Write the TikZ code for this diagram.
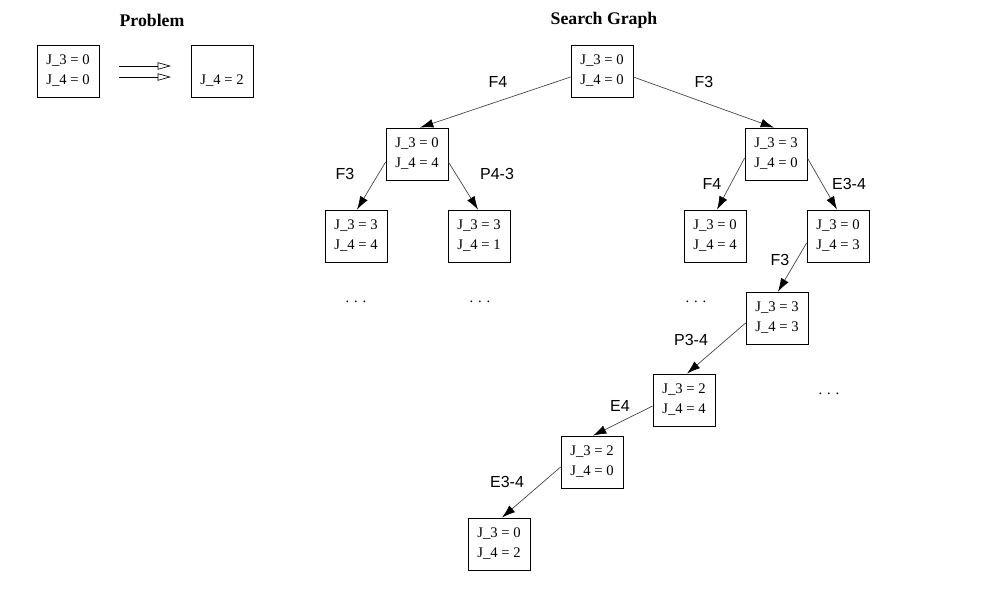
\documentclass[tikz,border=0pt]{standalone}
\usepackage{fontspec}
\setmainfont{Liberation Serif}
\setsansfont{Liberation Sans}
\usetikzlibrary{arrows.meta,calc}
\begin{document}
\begin{tikzpicture}[x=0.75pt,y=-0.75pt,
  state/.style={draw,line width=0.6pt,minimum width=46.5pt,minimum height=39pt,inner sep=0pt,align=center,font=\fontsize{11}{15}\selectfont},
  elabel/.style={font=\sffamily\fontsize{12}{14}\selectfont,inner sep=0pt},
  dotsn/.style={font=\fontsize{11}{12}\selectfont,inner sep=0pt,anchor=base},
  title/.style={font=\bfseries\fontsize{13.3}{15}\selectfont,inner sep=0pt},
  edge/.style={draw=black!75,line width=0.5pt,-{Latex[black,length=10pt,width=6.5pt]}},
  goal/.style={draw,line width=0.5pt,-{Triangle[open,length=10pt,width=5.5pt]}}
]
\useasboundingbox (0,0) rectangle (995,605);
% titles
\node[title] (tp) at (152,20) {Problem};
\node[title] (ts) at (604,20) {Search Graph};
% problem
\node[state] (pa) at (68,71) {J\_3 = 0\\J\_4 = 0};
\node[state] (pb) at (222,71) {\phantom{J\_3 = 0}\\J\_4 = 2};
\coordinate (a1s) at (119,66); \coordinate (a1e) at (171,66);
\coordinate (a2s) at (119,77); \coordinate (a2e) at (171,77);
\draw[goal] (a1s) -- (a1e);
\draw[goal] (a2s) -- (a2e);
% search graph nodes
\node[state] (r)   at (602,71)  {J\_3 = 0\\J\_4 = 0};
\node[state] (l)   at (417,154) {J\_3 = 0\\J\_4 = 4};
\node[state] (rr0) at (776,154) {J\_3 = 3\\J\_4 = 0};
\node[state] (ll)  at (356,236) {J\_3 = 3\\J\_4 = 4};
\node[state] (lr)  at (479,236) {J\_3 = 3\\J\_4 = 1};
\node[state] (rl)  at (715,236) {J\_3 = 0\\J\_4 = 4};
\node[state] (rr)  at (838,236) {J\_3 = 0\\J\_4 = 3};
\node[state] (n33) at (777,318) {J\_3 = 3\\J\_4 = 3};
\node[state] (n24) at (684,400) {J\_3 = 2\\J\_4 = 4};
\node[state] (n20) at (592,462) {J\_3 = 2\\J\_4 = 0};
\node[state] (n02) at (499,544) {J\_3 = 0\\J\_4 = 2};
% dots
\node[dotsn] (d1) at (356,303) {.\,\,.\,\,.};
\node[dotsn] (d2) at (480,303) {.\,\,.\,\,.};
\node[dotsn] (d3) at (696,303) {.\,\,.\,\,.};
\node[dotsn] (d4) at (829,395) {.\,\,.\,\,.};
% edges
\draw[edge] ($(r.west)+(0,6)$) -- ($(l.north)+(3,0)$);
\draw[edge] ($(r.east)+(0,6)$) -- ($(rr0.north)+(-2,0)$);
\draw[edge] ($(l.west)+(0,8)$) -- ($(ll.north)+(1,0)$);
\draw[edge] ($(l.east)+(0,8)$) -- ($(lr.north)+(-1,0)$);
\draw[edge] ($(rr0.west)+(0,4)$) -- ($(rl.north)+(2,0)$);
\draw[edge] ($(rr0.east)+(0,4)$) -- ($(rr.north)+(-1,0)$);
\draw[edge] ($(rr.west)+(0,7)$) -- ($(n33.north)+(1,0)$);
\draw[edge] ($(n33.west)+(0,5)$) -- ($(n24.north)+(3,0)$);
\draw[edge] ($(n24.west)+(0,6)$) -- ($(n20.north)+(1,0)$);
\draw[edge] ($(n20.west)+(0,5)$) -- ($(n02.north)+(3,0)$);
% edge labels
\node[elabel] (e1) at (498,82) {F4};
\node[elabel] (e2) at (704,82) {F3};
\node[elabel] (e3) at (345,174) {F3};
\node[elabel] (e4) at (497,174) {P4-3};
\node[elabel] (e5) at (712,184) {F4};
\node[elabel] (e6) at (849,184) {E3-4};
\node[elabel] (e7) at (780,260) {F3};
\node[elabel] (e8) at (691,340) {P3-4};
\node[elabel] (e9) at (620,406) {E4};
\node[elabel] (e10) at (507,482) {E3-4};
\end{tikzpicture}
\end{document}
